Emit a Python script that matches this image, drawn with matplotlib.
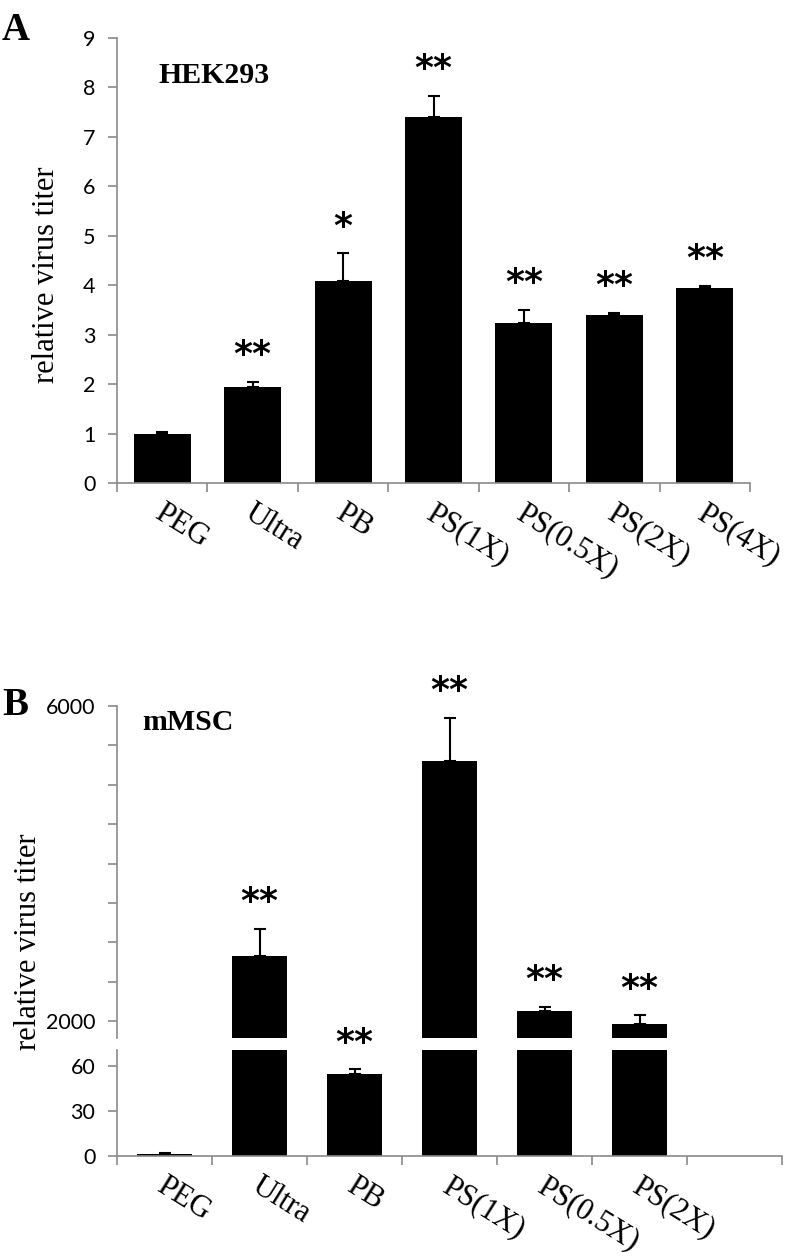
import numpy as np
import matplotlib
matplotlib.use("Agg")
import matplotlib.pyplot as plt
import matplotlib.transforms as mtransforms
from matplotlib.ticker import FixedLocator, FuncFormatter

# ---------------- data ----------------
cats_a = ["PEG", "Ultra", "PB", "PS(1X)", "PS(0.5X)", "PS(2X)", "PS(4X)"]
vals_a = [1.0, 1.95, 4.08, 7.39, 3.23, 3.39, 3.95]
errs_a = [0.03, 0.10, 0.56, 0.44, 0.27, 0.05, 0.04]
sig_a = ["", "**", "*", "**", "**", "**", "**"]

cats_b = ["PEG", "Ultra", "PB", "PS(1X)", "PS(0.5X)", "PS(2X)"]
vals_b = [1.0, 2825, 54.3, 5302, 2123, 1962]
errs_b = [0.5, 343, 3.3, 549, 59, 110]
sig_b = ["", "**", "**", "**", "**", "**"]

yticks_a = [0, 1, 2, 3, 4, 5, 6, 7, 8, 9]
yticks_b_upper = [2000, 2500, 3000, 3500, 4000, 4500, 5000, 5500, 6000]
ylabels_b_upper = {2000: "2000", 6000: "6000"}
yticks_b_lower = [0, 30, 60]

ylabel = "relative virus titer"

# ---------------- style ----------------
W, H = 787, 1256
SERIF = "Liberation Serif"
SANS = "Lato"
GRAY = "#8a8a8a"
plt.rcParams["font.family"] = [SANS, "DejaVu Sans"]

fig = plt.figure(figsize=(W / 100, H / 100), dpi=100)


def fx(px):
    return px / W


def fy(py):
    return 1 - py / H


def style_axis(ax):
    for s in ["top", "right"]:
        ax.spines[s].set_visible(False)
    for s in ["left", "bottom"]:
        ax.spines[s].set_color(GRAY)
        ax.spines[s].set_linewidth(1.2)
    ax.tick_params(axis="y", direction="out", length=6.5, width=1.2, color=GRAY,
                   labelsize=15.5, pad=9)


def style_x(ax, n_slots, cats):
    ax.set_xlim(-0.5, n_slots - 0.5)
    ax.xaxis.set_major_locator(FixedLocator(np.arange(-0.5, n_slots, 1.0)))
    ax.xaxis.set_major_formatter(FuncFormatter(lambda v, p: ""))
    ax.xaxis.set_minor_locator(FixedLocator(np.arange(len(cats))))
    ax.set_xticklabels(cats, minor=True)
    ax.tick_params(axis="x", which="major", direction="out", length=6.5, width=1.2, color=GRAY)
    ax.tick_params(axis="x", which="minor", length=0, pad=20)
    shift = mtransforms.ScaledTranslation(-5 / 100, 0, fig.dpi_scale_trans)
    for lab in ax.get_xticklabels(minor=True):
        lab.set_family(SERIF)
        lab.set_fontsize(22)
        lab.set_rotation(-32)
        lab.set_ha("left")
        lab.set_va("center")
        lab.set_rotation_mode("anchor")
        lab.set_transform(lab.get_transform() + shift)


def stars(ax, x, top, s):
    if s:
        ax.annotate(s, xy=(x, top), xytext=(0, 12), textcoords="offset points",
                    ha="center", va="baseline", fontsize=26, fontweight="bold",
                    family="DejaVu Sans", annotation_clip=False)


err_kw = dict(ecolor="black", elinewidth=1.5, capsize=4.5, capthick=1.5)

# ---------------- panel A ----------------
axA = fig.add_axes([fx(117), fy(483), fx(750) - fx(117), fy(37.7) - fy(483)])
xa = np.arange(len(cats_a))
axA.bar(xa, vals_a, width=0.63, color="black",
        yerr=[np.zeros(len(errs_a)), errs_a], error_kw=err_kw)
axA.set_ylim(0, 9)
axA.set_yticks(yticks_a)
style_axis(axA)
style_x(axA, len(cats_a), cats_a)
for i in range(len(cats_a)):
    stars(axA, xa[i], vals_a[i] + errs_a[i], sig_a[i])
fig.text(fx(214), fy(83), "HEK293", ha="center", va="baseline", fontsize=21.5,
         fontweight="bold", family=SERIF)

# ---------------- panel B ----------------
axBu = fig.add_axes([fx(117), fy(1037.7), fx(782) - fx(117), fy(706) - fy(1037.7)])
axBl = fig.add_axes([fx(117), fy(1155.7), fx(782) - fx(117), fy(1050.3) - fy(1155.7)])
xb = np.arange(len(cats_b))
for ax in (axBu, axBl):
    ax.bar(xb, vals_b, width=0.57, color="black",
           yerr=[np.zeros(len(errs_b)), errs_b], error_kw=err_kw)

axBu.set_ylim(1788, 6000)
axBu.set_yticks(yticks_b_upper)
axBu.yaxis.set_major_formatter(FuncFormatter(lambda v, p: ylabels_b_upper.get(int(round(v)), "")))
style_axis(axBu)
axBu.spines["bottom"].set_visible(False)
axBu.set_xlim(-0.5, 6.5)
axBu.set_xticks([])

axBl.set_ylim(0, 70.3)
axBl.set_yticks(yticks_b_lower)
style_axis(axBl)
style_x(axBl, 7, cats_b)

for i in range(len(cats_b)):
    top = vals_b[i] + errs_b[i]
    target = axBu if top > 1788 else axBl
    stars(target, xb[i], top, sig_b[i])

fig.text(fx(142), fy(730), "mMSC", ha="left", va="baseline", fontsize=21.5,
         fontweight="bold", family=SERIF)

# ---------------- labels ----------------
fig.text(fx(47), fy(275), ylabel, rotation=90, ha="center", va="center",
         fontsize=22, family=SERIF)
fig.text(fx(29), fy(942), ylabel, rotation=90, ha="center", va="center",
         fontsize=22, family=SERIF)
fig.text(fx(2), fy(40), "A", ha="left", va="baseline", fontsize=28,
         fontweight="bold", family=SERIF)
fig.text(fx(2), fy(715), "B", ha="left", va="baseline", fontsize=28,
         fontweight="bold", family=SERIF)

fig.savefig("out.png", dpi=100)
